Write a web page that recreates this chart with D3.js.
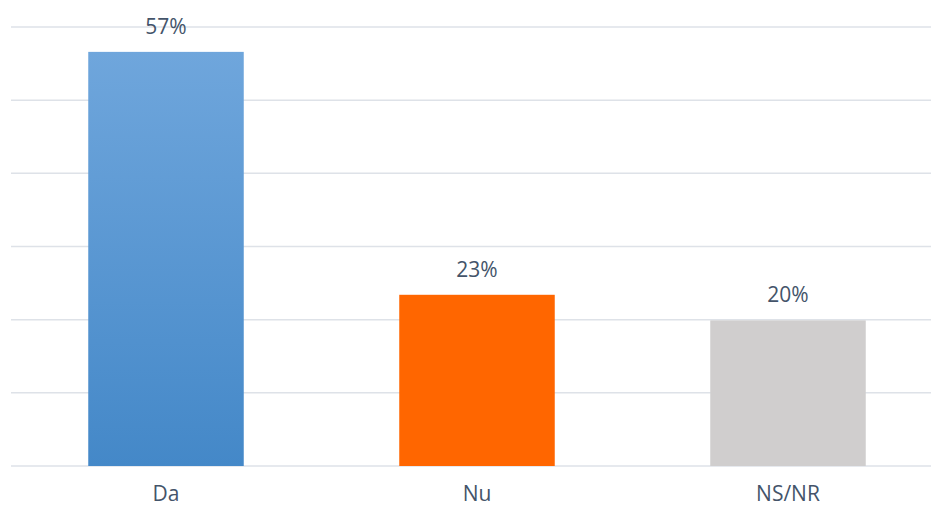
<!DOCTYPE html>
<html><head><meta charset="utf-8">
<script src="https://cdn.jsdelivr.net/npm/d3@7"></script>
<style>html,body{margin:0;padding:0;background:#fff;}</style>
</head><body>
<svg id="c" width="931" height="507"></svg>
<script>
const categories = ["Da", "Nu", "NS/NR"];
const values = [0.566, 0.234, 0.199];
const valueLabels = ["57%", "23%", "20%"];
const yTicks = [0, 0.1, 0.2, 0.3, 0.4, 0.5, 0.6];
const colors = ["url(#gradDa)", "#FF6600", "#D0CECE"];

const svg = d3.select("#c");
const defs = svg.append("defs");
const g = defs.append("linearGradient").attr("id", "gradDa").attr("x1", 0).attr("y1", 0).attr("x2", 0).attr("y2", 1);
g.append("stop").attr("offset", "0%").attr("stop-color", "#6FA6DC");
g.append("stop").attr("offset", "100%").attr("stop-color", "#4488C8");

const x = d3.scaleBand().domain(categories).range([10.5, 943.5]).paddingInner(0.5).paddingOuter(0.25);
const y = d3.scaleLinear().domain([0, 0.6]).range([466, 27]);

svg.append("g").selectAll("line").data(yTicks).join("line")
  .attr("x1", 11).attr("x2", 931)
  .attr("y1", d => y(d)).attr("y2", d => y(d))
  .attr("stroke", "#DEE2E8").attr("stroke-width", 1.5);

svg.append("g").selectAll("rect").data(categories).join("rect")
  .attr("x", d => x(d)).attr("width", x.bandwidth())
  .attr("y", (d, i) => y(values[i])).attr("height", (d, i) => y(0) - y(values[i]))
  .attr("fill", (d, i) => colors[i]);

svg.append("g").selectAll("text").data(categories).join("text")
  .attr("x", d => x(d) + x.bandwidth() / 2)
  .attr("y", (d, i) => y(values[i]) - 18)
  .attr("text-anchor", "middle")
  .attr("font-family", "Open Sans, sans-serif").attr("font-size", 21)
  .attr("fill", "#44546A")
  .text((d, i) => valueLabels[i]);

svg.append("g").selectAll("text").data(categories).join("text")
  .attr("x", d => x(d) + x.bandwidth() / 2)
  .attr("y", 501)
  .attr("text-anchor", "middle")
  .attr("font-family", "Open Sans, sans-serif").attr("font-size", 21)
  .attr("fill", "#44546A")
  .text(d => d);
</script>
</body></html>
